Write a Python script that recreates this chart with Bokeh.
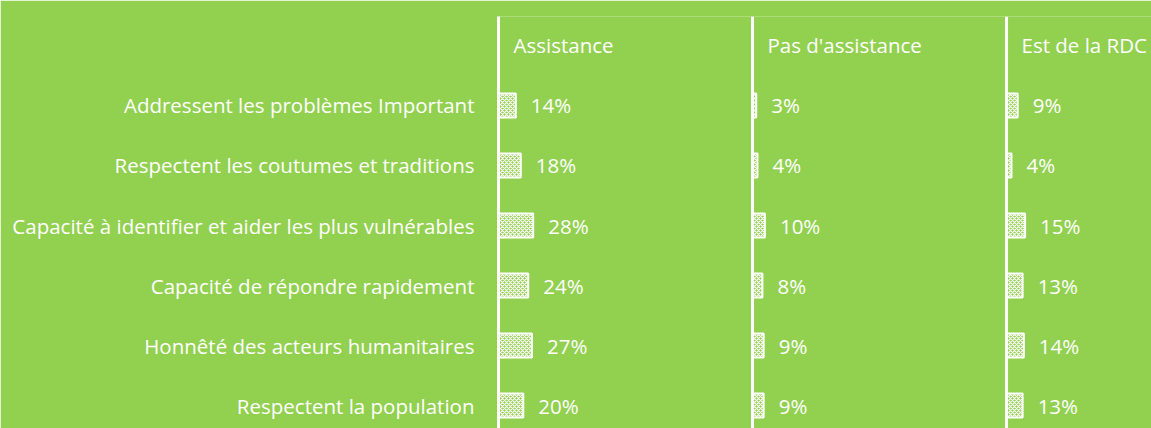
from bokeh.plotting import figure
from bokeh.models import Range1d, FixedTicker, ColumnDataSource, Span
from bokeh.core.properties import value
from bokeh.embed import file_html
from bokeh.resources import INLINE

categories = [
    "Addressent les problèmes Important",
    "Respectent les coutumes et traditions",
    "Capacité à identifier et aider les plus vulnérables",
    "Capacité de répondre rapidement",
    "Honnêté des acteurs humanitaires",
    "Respectent la population",
]
groups = ["Assistance", "Pas d'assistance", "Est de la RDC"]
assistance = [14, 18, 28, 24, 27, 20]
pas_assistance = [3, 4, 10, 8, 9, 9]
est_rdc = [9, 4, 15, 13, 14, 13]

BG = "#92D050"
FONT = "Open Sans"
FS = "20.5px"
PANEL = 205  # width of each panel in % units

series = [assistance, pas_assistance, est_rdc]
n = len(categories)
ypos = [n - 1 - i for i in range(n)]

p = figure(width=1151, height=428, output_backend="svg", toolbar_location=None,
           x_range=Range1d(0, 527), y_range=Range1d(-0.383, 6.483),
           min_border_left=498, min_border_right=0, min_border_top=16, min_border_bottom=0)
p.background_fill_color = BG
p.border_fill_color = BG
p.outline_line_color = None
p.xgrid.visible = False
p.ygrid.visible = False
p.xaxis.visible = False

ax = p.yaxis[0]
ax.ticker = FixedTicker(ticks=ypos)
ax.major_label_overrides = {y: c for y, c in zip(ypos, categories)}
ax.axis_line_color = "white"
ax.axis_line_width = 3
ax.major_tick_line_color = None
ax.minor_tick_line_color = None
ax.major_tick_out = 0
ax.major_tick_in = 0
ax.major_label_standoff = 24
ax.major_label_text_color = "white"
ax.major_label_text_font = FONT
ax.major_label_text_font_size = FS

for k, (g, vals) in enumerate(zip(groups, series)):
    off = k * PANEL
    src = ColumnDataSource(dict(
        y=ypos,
        left=[off] * n,
        right=[off + v for v in vals],
        lab=[f"{v}%" for v in vals],
    ))
    p.hbar(y="y", left="left", right="right", height=0.4, source=src,
           fill_color=BG, hatch_pattern="x", hatch_color="white", hatch_scale=4,
           hatch_weight=1.2, line_color="white", line_width=2)
    p.text(x="right", y="y", text="lab", source=src, x_offset=15,
           text_baseline="middle", text_align="left", text_color="white",
           text_font=value(FONT), text_font_size=FS)
    if k > 0:
        p.add_layout(Span(location=off, dimension="height", line_color="white", line_width=3))
    p.text(x=[off], y=[6.0], text=[g], x_offset=15, text_baseline="middle",
           text_align="left", text_color="white", text_font=value(FONT), text_font_size=FS)

open("out.html", "w").write(file_html(p, INLINE))
